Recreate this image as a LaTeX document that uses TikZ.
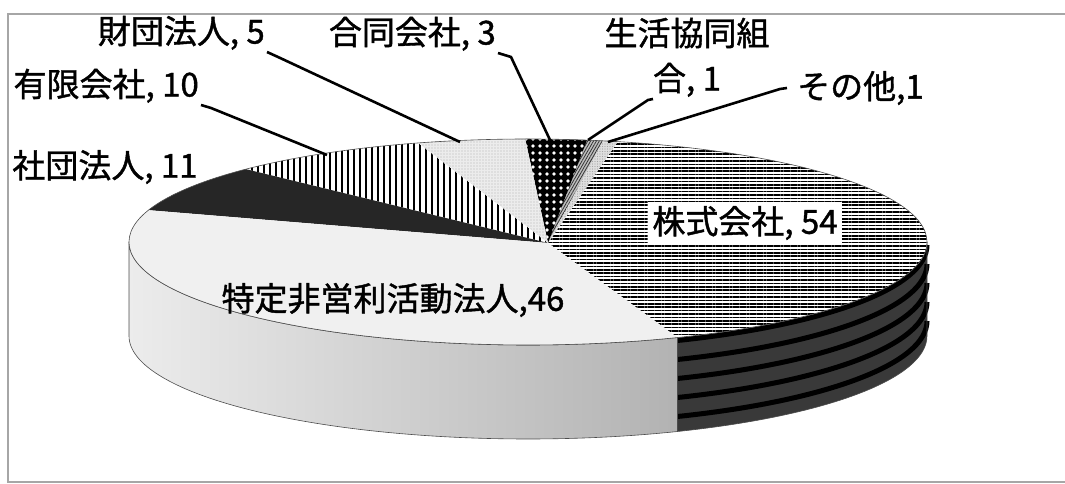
\documentclass[tikz,border=0pt]{standalone}
\usepackage{fontspec}
\setmainfont{Noto Sans CJK JP}[FakeBold=1.2]
\usetikzlibrary{patterns.meta,calc}

\tikzset{
  lbl/.style={font=\fontsize{33}{40}\selectfont, inner sep=2pt},
  leader/.style={line width=2.6pt},
  rim/.style={draw=black!70, line width=0.6pt},
  kabu/.style={preaction={fill=white}, pattern={Lines[distance=3.4pt, angle=0, line width=1.5pt]}, pattern color=black},
  sonota/.style={preaction={fill=gray!25}, pattern={Dots[distance=2.5pt, radius=0.6pt]}, pattern color=gray!70},
  seikyo/.style={preaction={fill=gray!50}, pattern={Lines[distance=2.5pt, angle=60, line width=0.8pt]}, pattern color=black!80},
  goudou/.style={preaction={fill=black}, pattern={Dots[distance=6.5pt, radius=2pt]}, pattern color=white},
  zaidan/.style={preaction={fill=gray!15}, pattern={Dots[distance=3pt, radius=0.7pt]}, pattern color=gray!60},
  yugen/.style={preaction={fill=white}, pattern={Lines[distance=6pt, angle=90, line width=2.4pt]}, pattern color=black},
  shadan/.style={fill=black!85},
  tokutei/.style={fill=gray!12}
}

\begin{document}
\begin{tikzpicture}[x=1pt,y=1pt]
\useasboundingbox (0,0) rectangle (1065,484);
\draw[gray!70, line width=1.5pt] (1075,470) -- (8,470) -- (8,2) -- (1075,2);

\def\ra{399pt}\def\rb{103pt}\def\pieh{94}
\coordinate (c) at (528,242);
\coordinate (o) at (548,241);

\shade[left color=gray!15, right color=gray!60, rim] ($(c)+({399*cos(180)},{103*sin(180)})$) arc[start angle=180, end angle=292, x radius=\ra, y radius=\rb] -- ++(0,-\pieh) arc[start angle=292, end angle=180, x radius=\ra, y radius=\rb] -- cycle;
\fill[gray!45!black] ($(c)+({399*cos(292)},{103*sin(292)})$) arc[start angle=292, end angle=360, x radius=\ra, y radius=\rb] -- ++(0,-\pieh) arc[start angle=360, end angle=292, x radius=\ra, y radius=\rb] -- cycle;
\foreach \k in {3,22,41,60,79}
  \draw[black, line width=5pt] ($(c)+({399*cos(292)},{103*sin(292)-\k})$) arc[start angle=292, end angle=360, x radius=\ra, y radius=\rb];
\draw[rim] ($(c)+({399*cos(292)},{103*sin(292)})$) arc[start angle=292, end angle=360, x radius=\ra, y radius=\rb] -- ++(0,-\pieh) arc[start angle=360, end angle=292, x radius=\ra, y radius=\rb] -- cycle;

\foreach \s/\e/\st in {-68/77/kabu, 77/79.2/sonota, 79.2/81.5/seikyo, 81.5/90.4/goudou, 90.4/106/zaidan, 106/135/yugen, 135/162/shadan, 162/292/tokutei}
  \path[\st] (o) -- ($(c)+({399*cos(\s)},{103*sin(\s)})$) arc[start angle=\s, end angle=\e, x radius=\ra, y radius=\rb] -- cycle;
\draw[rim] (c) ellipse[x radius=\ra, y radius=\rb];

\node[lbl, anchor=south east] (zaidanlbl) at (267,432) {財団法人, 5};
\node[lbl, anchor=south east] (goudoulbl) at (498,431) {合同会社, 3};
\node[lbl, anchor=south east] (yugenlbl) at (201,379) {有限会社, 10};
\node[lbl] (shadanlbl) at (105,317) {社団法人, 11};
\node[lbl, align=center, anchor=south, font=\fontsize{33}{45}\selectfont] (seikyolbl) at (687,385) {生活協同組\\合, 1};
\node[lbl, anchor=west] (sonotalbl) at (795,396) {その他,1};
\node[lbl, fill=white, inner sep=4pt] (kabulbl) at (745,261) {株式会社, 54};
\node[lbl] (tokuteilbl) at (393,184) {特定非営利活動法人,46};

\coordinate (zaidanend) at (460,342);
\coordinate (goudouend) at (550,344);
\coordinate (yugenend) at (327,329);
\coordinate (seikyoend) at (588,344);
\coordinate (sonotaend) at (608,342);

\draw[leader] (zaidanlbl.south east) -- ++(11,-5) -- (zaidanend);
\draw[leader] (goudoulbl.south east) -- ++(13,-4) -- (goudouend);
\draw[leader] (yugenlbl.south east) -- ++(10,-3) -- (yugenend);
\draw[leader] ([xshift=-34pt]seikyolbl.south) -- ++(-5,-1) -- (seikyoend);
\draw[leader] ([xshift=-8pt]sonotalbl.west) -- ++(-7,-1) -- (sonotaend);
\end{tikzpicture}
\end{document}
